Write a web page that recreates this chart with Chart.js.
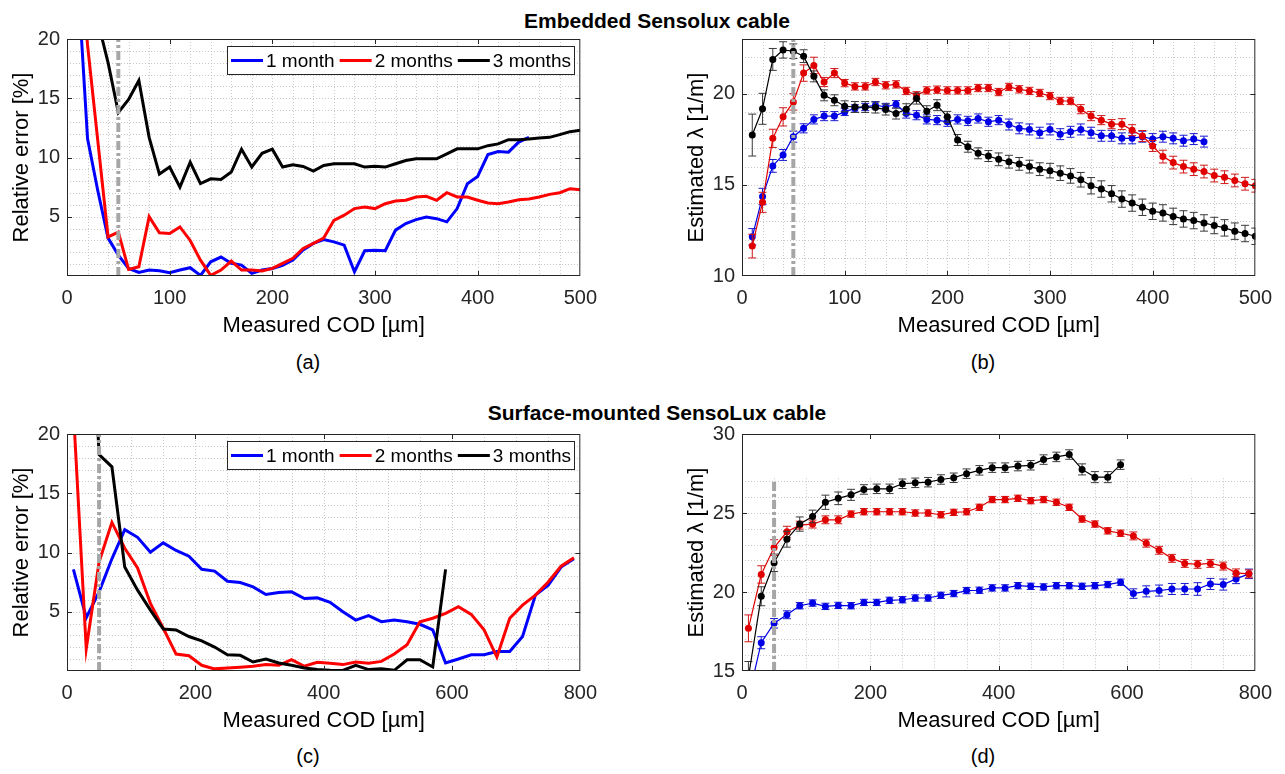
<!DOCTYPE html>
<html>
<head>
<meta charset="utf-8">
<title>Sensolux cable COD</title>
<script src="https://cdn.jsdelivr.net/npm/chart.js@4.4.1/dist/chart.umd.min.js"></script>
<style>
  body { margin: 0; background: #fff; font-family: 'Liberation Sans', Arial, sans-serif; }
  #fig { position: relative; width: 1285px; height: 774px; overflow: hidden; background: #fff; }
  canvas { position: absolute; }
  .title { position: absolute; left: 657px; transform: translateX(-50%); font-size: 21px; font-weight: bold; white-space: nowrap; line-height: 24px; color: #000; }
  .cap { position: absolute; transform: translateX(-50%); font-size: 20px; line-height: 24px; color: #000; }
</style>
</head>
<body>
<div id="fig">
  <div class="title" style="top:9px">Embedded Sensolux cable</div>
  <div class="title" style="top:401px">Surface-mounted SensoLux cable</div>
  <canvas id="chartA" width="607" height="343" style="left:0;top:0"></canvas>
  <canvas id="chartB" width="602" height="343" style="left:680px;top:0"></canvas>
  <canvas id="chartC" width="607" height="343" style="left:0;top:395px"></canvas>
  <canvas id="chartD" width="602" height="343" style="left:680px;top:395px"></canvas>
  <div class="cap" style="left:308px;top:350px">(a)</div>
  <div class="cap" style="left:983px;top:350px">(b)</div>
  <div class="cap" style="left:308px;top:744px">(c)</div>
  <div class="cap" style="left:983px;top:744px">(d)</div>
</div>
<script>
// Data: measured COD (µm) and results per month
const monthLabels = ['1 month', '2 months', '3 months'];
const cutoffCod = 50;

// (a) embedded, relative error [%]
const codA = [10,20,30,40,50,60,70,80,90,100,110,120,130,140,150,160,170,180,190,200,
  210,220,230,240,250,260,270,280,290,300,310,320,330,340,350,360,370,380,390,400,
  410,420,430,440,450,460,470,480,490,500];
const relA1 = [26,11.6,7.2,3.2,1.76,0.64,0.3,0.5,0.45,0.28,
  0.5,0.7,0.05,1.2,1.6,1.07,0.92,0.22,0.5,0.64,
  0.9,1.34,2.2,2.75,3.08,2.88,2.6,0.36,2.13,2.18,
  2.13,3.87,4.43,4.76,4.98,4.84,4.57,5.69,7.79,8.4,
  10.25,10.5,10.45,11.3,11.7];
const relA2 = [30,19.5,11.4,3.3,3.7,0.56,0.78,5.0,3.64,3.58,
  4.14,3.0,1.34,0.05,0.5,1.26,0.5,0.5,0.42,0.64,
  1.06,1.5,2.32,2.75,3.2,4.7,5.13,5.69,5.83,5.69,
  6.1,6.33,6.39,6.67,6.72,6.39,7.03,6.67,6.67,6.39,
  6.16,6.1,6.25,6.44,6.5,6.67,6.89,7.03,7.37,7.28];
const relA3 = [null,null,21.5,18,13.8,14.9,16.5,11.7,8.6,9.2,
  7.5,9.6,7.8,8.2,8.15,8.77,10.7,9.2,10.36,10.7,
  9.2,9.39,9.24,8.85,9.33,9.47,9.47,9.47,9.19,9.27,
  9.19,9.47,9.75,9.89,9.89,9.89,10.3,10.73,10.73,10.73,
  11.0,11.15,11.5,11.5,11.57,11.65,11.7,11.93,12.18,12.3];

// (b) embedded, estimated lambda [1/m] with error bars
const lamB1 = [12.15,14.36,16.04,16.64,17.64,18.1,18.59,18.77,18.77,19.0,
  19.19,19.27,19.37,19.27,19.42,18.91,18.82,18.59,18.55,18.46,
  18.59,18.51,18.64,18.46,18.55,18.31,18.1,18.04,17.86,18.04,
  17.78,17.91,18.04,17.86,17.69,17.69,17.55,17.55,17.64,17.51,
  17.64,17.55,17.42,17.51,17.37];
const lamB2 = [11.64,14.04,17.55,18.73,19.55,21.13,21.55,20.64,21.13,20.58,
  20.4,20.4,20.64,20.46,20.51,20.15,19.91,20.18,20.22,20.18,
  20.18,20.18,20.31,20.31,20.09,20.37,20.24,20.15,20.04,19.87,
  19.6,19.6,19.15,18.77,18.55,18.33,18.33,18.0,17.68,17.13,
  16.55,16.22,16.0,15.86,15.73,15.51,15.42,15.24,15.06,14.95];
const lamB3 = [17.73,19.17,21.88,22.4,22.33,22.06,20.95,19.91,19.64,19.31,
  19.27,19.27,19.24,19.13,18.91,19.15,19.73,19.04,19.37,18.73,
  17.46,17.09,16.73,16.58,16.4,16.27,16.15,16.0,15.86,15.78,
  15.64,15.49,15.28,14.95,14.77,14.51,14.22,14.0,13.77,13.55,
  13.46,13.27,13.13,13.04,12.91,12.77,12.64,12.46,12.33,12.18];
const errB1 = [0.45,0.45,0.35,0.3,0.3,0.25,0.25,0.25,0.25,0.2,
  0.2,0.2,0.2,0.2,0.2,0.25,0.25,0.25,0.25,0.25,
  0.25,0.25,0.25,0.25,0.25,0.3,0.3,0.3,0.3,0.3,
  0.3,0.3,0.3,0.3,0.3,0.3,0.3,0.3,0.3,0.3,
  0.3,0.3,0.3,0.3,0.3];
const errB2 = [0.65,0.55,0.5,0.5,0.45,0.45,0.45,0.25,0.25,0.2,
  0.2,0.2,0.2,0.2,0.2,0.2,0.2,0.2,0.2,0.2,
  0.2,0.2,0.2,0.2,0.2,0.2,0.2,0.2,0.2,0.2,
  0.2,0.2,0.25,0.25,0.25,0.25,0.3,0.3,0.3,0.3,
  0.35,0.35,0.35,0.35,0.35,0.35,0.35,0.35,0.35,0.35];
const errB3 = [1.15,0.85,0.6,0.45,0.4,0.35,0.3,0.3,0.3,0.3,
  0.3,0.3,0.3,0.3,0.3,0.3,0.3,0.3,0.3,0.3,
  0.3,0.3,0.3,0.3,0.35,0.35,0.35,0.35,0.35,0.4,
  0.4,0.4,0.4,0.45,0.45,0.45,0.45,0.45,0.45,0.45,
  0.45,0.45,0.45,0.45,0.45,0.45,0.45,0.45,0.45,0.45];

// (c) surface-mounted, relative error [%]
const codC = [10,30,50,70,90,110,130,150,170,190,210,230,250,270,290,310,330,350,370,390,
  410,430,450,470,490,510,530,550,570,590,610,630,650,670,690,710,730,750,770,790];
const relC1 = [8.58,4.5,6.68,9.47,11.93,11.28,10.03,10.81,10.17,9.69,
  8.58,8.43,7.57,7.46,7.1,6.46,6.62,6.68,6.12,6.17,
  5.79,5.0,4.3,4.67,4.16,4.3,4.16,3.94,3.47,0.68,
  1.01,1.37,1.37,1.65,1.65,2.91,6.4,7.24,8.77,9.47];
const relC2 = [22,1.88,9.19,12.54,10.36,8.69,5.7,3.61,1.43,1.29,
  0.48,0.18,0.26,0.32,0.4,0.54,0.48,0.95,0.4,0.73,
  0.65,0.54,0.76,0.65,0.81,1.43,2.21,4.16,4.45,4.87,
  5.42,4.78,3.47,1.18,4.45,5.56,6.4,7.51,8.85,9.55];
const relC3 = [null,40,18.27,17.23,8.77,6.82,5.14,3.55,3.47,2.91,
  2.55,2.02,1.37,1.32,0.76,1.01,0.68,0.48,0.26,0.12,
  0.06,0.05,0.48,0.12,0.18,0.06,0.95,0.95,0.34,8.58];

// (d) surface-mounted, estimated lambda [1/m] with error bars
const lamD1 = [13.3,16.79,18.02,18.56,19.13,19.3,19.09,19.15,19.13,19.34,
  19.34,19.47,19.51,19.62,19.62,19.79,19.9,20.09,20.11,20.26,
  20.26,20.4,20.36,20.32,20.4,20.4,20.36,20.4,20.47,20.62,
  19.9,20.04,20.09,20.19,20.19,20.19,20.51,20.47,20.83,21.15];
const lamD2 = [17.7,21.11,22.81,23.81,24.23,24.3,24.57,24.57,24.93,25.08,
  25.08,25.08,25.08,25.0,25.0,24.89,25.04,25.08,25.36,25.85,
  25.85,25.93,25.78,25.85,25.68,25.36,24.62,24.3,23.87,23.72,
  23.55,23.09,22.64,22.13,21.81,21.75,21.81,21.64,21.21,21.15];
const lamD3 = [14.6,19.73,21.85,23.34,24.3,24.78,25.68,25.93,26.15,26.49,
  26.53,26.53,26.85,26.91,26.95,27.12,27.23,27.49,27.7,27.87,
  27.87,27.97,28.02,28.38,28.55,28.7,27.76,27.27,27.27,28.06];
const errD1 = [0.5,0.38,0.3,0.25,0.2,0.2,0.2,0.2,0.2,0.2,
  0.2,0.2,0.2,0.2,0.2,0.2,0.2,0.2,0.2,0.2,
  0.2,0.2,0.2,0.2,0.2,0.2,0.2,0.2,0.2,0.2,
  0.3,0.35,0.35,0.35,0.35,0.4,0.35,0.35,0.3,0.3];
const errD2 = [0.85,0.55,0.5,0.35,0.25,0.25,0.25,0.25,0.2,0.2,
  0.2,0.2,0.2,0.2,0.2,0.2,0.2,0.2,0.2,0.2,
  0.2,0.2,0.2,0.2,0.2,0.2,0.2,0.2,0.2,0.2,
  0.25,0.25,0.25,0.25,0.25,0.25,0.25,0.25,0.25,0.25];
const errD3 = [1.0,0.6,0.55,0.5,0.45,0.4,0.45,0.4,0.35,0.3,
  0.3,0.3,0.3,0.3,0.3,0.3,0.3,0.3,0.3,0.3,
  0.3,0.3,0.3,0.3,0.3,0.3,0.35,0.35,0.35,0.3];

// axis limits and tick steps
const xLimA = [0, 500], yLimA = [0, 20];
const xLimB = [0, 500], yLimB = [10, 23];
const xLimC = [0, 800], yLimC = [0, 20];
const xLimD = [0, 800], yLimD = [15, 30];
const cutoffTopD = 27;

const FONT = "'Liberation Sans', Arial, Helvetica, sans-serif";
Chart.defaults.font.family = FONT;
Chart.defaults.color = '#262626';

// Minor dotted grid, error bars, box with inward ticks, legend
const frame = {
    id: 'frame',
    beforeDatasetsDraw(chart, args, opts) {
        const { ctx, chartArea: a, scales: { x, y } } = chart;
        const gTop = opts.gridTop == null ? a.top : y.getPixelForValue(opts.gridTop);
        ctx.save();
        ctx.beginPath();
        ctx.rect(a.left, a.top, a.width, a.height);
        ctx.clip();
        ctx.strokeStyle = '#c8c8c8';
        ctx.lineWidth = 1;
        ctx.setLineDash([1, 2]);
        ctx.beginPath();
        for (let v = x.min + opts.xMinor; v < x.max - 1e-6; v += opts.xMinor) {
            const p = Math.round(x.getPixelForValue(v)) + 0.5;
            ctx.moveTo(p, gTop);
            ctx.lineTo(p, a.bottom);
        }
        for (let v = y.min + opts.yMinor; v < y.max - 1e-6; v += opts.yMinor) {
            const p = Math.round(y.getPixelForValue(v)) + 0.5;
            if (p < gTop - 1) continue;
            ctx.moveTo(a.left, p);
            ctx.lineTo(a.right, p);
        }
        ctx.stroke();
        ctx.restore();
    },
    beforeDatasetDraw(chart, args) {
        const ds = chart.data.datasets[args.index];
        if (!ds.errors) return;
        const { ctx, chartArea: a, scales: { x, y } } = chart;
        ctx.save();
        ctx.beginPath();
        ctx.rect(a.left, a.top, a.width, a.height);
        ctx.clip();
        ctx.strokeStyle = ds.errColor;
        ctx.lineWidth = 1;
        ctx.beginPath();
        ds.data.forEach((p, i) => {
            if (p.y == null) return;
            const px = x.getPixelForValue(p.x);
            const lo = y.getPixelForValue(p.y - ds.errors[i]);
            const hi = y.getPixelForValue(p.y + ds.errors[i]);
            ctx.moveTo(px, lo); ctx.lineTo(px, hi);
            ctx.moveTo(px - 4, lo); ctx.lineTo(px + 4, lo);
            ctx.moveTo(px - 4, hi); ctx.lineTo(px + 4, hi);
        });
        ctx.stroke();
        ctx.restore();
    },
    afterDatasetsDraw(chart, args, opts) {
        const { ctx, chartArea: a, scales: { x, y } } = chart;
        ctx.save();
        ctx.strokeStyle = '#262626';
        ctx.lineWidth = 1;
        ctx.strokeRect(a.left + 0.5, a.top + 0.5, a.width - 1, a.height - 1);
        ctx.beginPath();
        x.ticks.forEach(t => {
            if (t.value <= x.min || t.value >= x.max) return;
            const p = Math.round(x.getPixelForValue(t.value)) + 0.5;
            ctx.moveTo(p, a.bottom); ctx.lineTo(p, a.bottom - 5);
            ctx.moveTo(p, a.top); ctx.lineTo(p, a.top + 5);
        });
        y.ticks.forEach(t => {
            if (t.value <= y.min || t.value >= y.max) return;
            const p = Math.round(y.getPixelForValue(t.value)) + 0.5;
            ctx.moveTo(a.left, p); ctx.lineTo(a.left + 5, p);
            ctx.moveTo(a.right, p); ctx.lineTo(a.right - 5, p);
        });
        ctx.stroke();

        if (opts.legend) {
            const items = chart.data.datasets.filter(d => d.label);
            ctx.font = '19px ' + FONT;
            let w = 4;
            items.forEach((d, i) => {
                w += 35 + ctx.measureText(d.label).width + (i < items.length - 1 ? 5 : 3);
            });
            w = Math.round(w);
            const h = 28;
            const left = Math.round(a.right - 6 - w);
            const top = Math.round(a.top + 7);
            ctx.fillStyle = '#fff';
            ctx.fillRect(left, top, w, h);
            ctx.strokeRect(left + 0.5, top + 0.5, w, h);
            let cx = left + 4;
            const cy = top + h / 2 + 0.5;
            items.forEach(d => {
                ctx.strokeStyle = d.borderColor;
                ctx.lineWidth = 3;
                ctx.beginPath();
                ctx.moveTo(cx, cy); ctx.lineTo(cx + 32, cy);
                ctx.stroke();
                ctx.fillStyle = '#000';
                ctx.textBaseline = 'middle';
                ctx.fillText(d.label, cx + 35, cy + 1);
                cx += 35 + ctx.measureText(d.label).width + 5;
            });
        }
        ctx.restore();
    }
};

function toPoints(cod, vals) {
    return vals.map((v, i) => ({ x: cod[i], y: v }));
}

function thickSeries(label, color, cod, vals, order) {
    return { label, data: toPoints(cod, vals), borderColor: color, borderWidth: 3,
        pointRadius: 0, order };
}

function markerSeries(label, color, errColor, cod, vals, errs, order) {
    return { label, data: toPoints(cod, vals), borderColor: color, borderWidth: 1.2,
        pointRadius: 3.5, pointBorderWidth: 0, pointBackgroundColor: color,
        errors: errs, errColor, order };
}

function cutoffLine(yLow, yHigh) {
    return { data: [{ x: cutoffCod, y: yLow }, { x: cutoffCod, y: yHigh }],
        borderColor: '#a6a6a6', borderWidth: 4, borderDash: [9, 3, 3, 3],
        pointRadius: 0, order: 0 };
}

function makePanel(id, o) {
    return new Chart(document.getElementById(id), {
        type: 'line',
        data: { datasets: o.datasets },
        options: {
            responsive: false,
            animation: false,
            layout: { padding: { top: 39, right: o.padRight, left: 0, bottom: 0 } },
            plugins: {
                legend: { display: false },
                tooltip: { enabled: false },
                frame: { xMinor: o.xMinor, yMinor: 1, gridTop: o.gridTop, legend: o.legend }
            },
            scales: {
                x: {
                    type: 'linear', min: o.xLim[0], max: o.xLim[1],
                    grid: { display: false, drawTicks: false },
                    border: { display: false },
                    ticks: { stepSize: o.xStep, autoSkip: false, maxRotation: 0, padding: 10,
                        font: { size: 20 }, color: '#262626' },
                    title: { display: true, text: 'Measured COD [µm]', color: '#000',
                        font: { size: 22 }, padding: { top: 4, bottom: 4 } },
                    afterFit: s => { s.height = 67; }
                },
                y: {
                    min: o.yLim[0], max: o.yLim[1],
                    grid: { display: false, drawTicks: false },
                    border: { display: false },
                    ticks: { stepSize: 5, includeBounds: false, padding: 7,
                        font: { size: 20 }, color: '#262626',
                        callback: v => (v === 0 || v % 5 !== 0) ? '' : v },
                    title: { display: true, text: o.yTitle, color: '#000',
                        font: { size: 22 }, padding: { top: o.yTitlePad, bottom: 0 } },
                    afterFit: s => { s.width = o.yWidth; }
                }
            }
        },
        plugins: [frame]
    });
}

makePanel('chartA', {
    xLim: xLimA, yLim: yLimA, xStep: 100, xMinor: 20, padRight: 20, yWidth: 67, yTitlePad: 9,
    yTitle: 'Relative error [%]', legend: true,
    datasets: [
        thickSeries(monthLabels[0], '#0000ff', codA, relA1, 3),
        thickSeries(monthLabels[1], '#ff0000', codA, relA2, 2),
        thickSeries(monthLabels[2], '#000000', codA, relA3, 1),
        cutoffLine(yLimA[0], yLimA[1])
    ]
});

makePanel('chartB', {
    xLim: xLimB, yLim: yLimB, xStep: 100, xMinor: 20, padRight: 20, yWidth: 62, yTitlePad: 4,
    yTitle: 'Estimated λ [1/m]', legend: false,
    datasets: [
        markerSeries(monthLabels[0], '#0000e6', '#1a1ad0', codA, lamB1, errB1, 3),
        markerSeries(monthLabels[1], '#e00000', '#d01818', codA, lamB2, errB2, 2),
        markerSeries(monthLabels[2], '#000000', '#3a3a3a', codA, lamB3, errB3, 1),
        cutoffLine(yLimB[0], yLimB[1])
    ]
});

makePanel('chartC', {
    xLim: xLimC, yLim: yLimC, xStep: 200, xMinor: 50, padRight: 20, yWidth: 67, yTitlePad: 9,
    yTitle: 'Relative error [%]', legend: true,
    datasets: [
        thickSeries(monthLabels[0], '#0000ff', codC, relC1, 3),
        thickSeries(monthLabels[1], '#ff0000', codC, relC2, 2),
        thickSeries(monthLabels[2], '#000000', codC, relC3, 1),
        cutoffLine(yLimC[0], yLimC[1])
    ]
});

makePanel('chartD', {
    xLim: xLimD, yLim: yLimD, xStep: 200, xMinor: 50, padRight: 20, yWidth: 62, yTitlePad: 4,
    yTitle: 'Estimated λ [1/m]', legend: false, gridTop: 27.2,
    datasets: [
        markerSeries(monthLabels[0], '#0000e6', '#1a1ad0', codC, lamD1, errD1, 3),
        markerSeries(monthLabels[1], '#e00000', '#d01818', codC, lamD2, errD2, 2),
        markerSeries(monthLabels[2], '#000000', '#3a3a3a', codC, lamD3, errD3, 1),
        cutoffLine(yLimD[0], cutoffTopD)
    ]
});
</script>
</body>
</html>
